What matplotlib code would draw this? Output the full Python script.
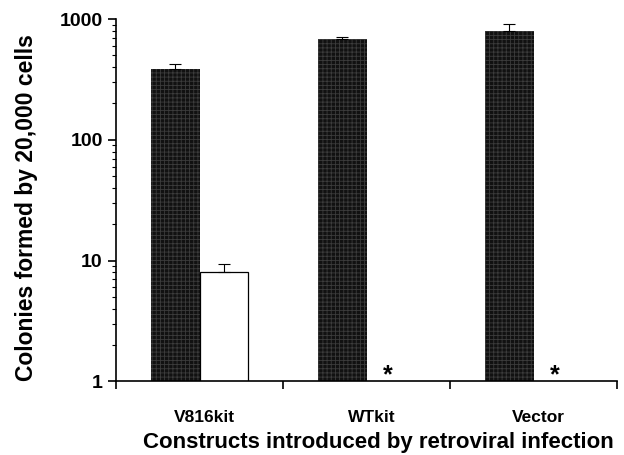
import matplotlib.pyplot as plt
import numpy as np

plt.rcParams["font.family"] = ["Liberation Sans", "DejaVu Sans"]
plt.rcParams["hatch.linewidth"] = 0.6

constructs = ["V816kit", "WTkit", "Vector"]
colonies_dark = [386, 684, 796]
err_dark = [40, 25, 110]
colonies_open = [8, None, None]
err_open = [1.3, None, None]
no_colonies = [False, True, True]

fig = plt.figure(figsize=(6.24, 4.55), dpi=100)
ax = fig.add_axes([0.186, 0.162, 0.803, 0.796])

x = np.arange(len(constructs))
w = 0.29

ax.bar(x - w / 2, colonies_dark, width=w, color="#111111",
       edgecolor="#3c3c3c", hatch="++++", linewidth=0, zorder=2)
ax.errorbar(x - w / 2, colonies_dark, yerr=[np.zeros(3), err_dark], fmt="none",
            ecolor="black", elinewidth=0.8, capsize=4, capthick=0.8, zorder=3)

for i, (val, err) in enumerate(zip(colonies_open, err_open)):
    if val is not None:
        ax.bar(x[i] + w / 2, val, width=w, color="white",
               edgecolor="black", linewidth=0.9, zorder=2)
        ax.errorbar(x[i] + w / 2, val, yerr=[[0], [err]], fmt="none",
                    ecolor="black", elinewidth=0.8, capsize=4, capthick=0.8, zorder=3)
    if no_colonies[i]:
        ax.annotate("*", (x[i] + w / 2 - 0.02, 1.0), xytext=(0, -4),
                    textcoords="offset points", ha="center", va="bottom",
                    fontsize=18, fontweight="bold")

ax.set_yscale("log")
ax.set_ylim(1, 1000)
ax.set_xlim(-0.5, 2.5)

ax.set_xticks([-0.5, 0.5, 1.5, 2.5])
ax.set_xticklabels([])
ax.set_xticks(x + 0.03, minor=True)
ax.set_xticklabels(constructs, minor=True, fontsize=12.5, fontweight="bold")
ax.tick_params(axis="x", which="major", direction="out", length=6, width=1.2)
ax.tick_params(axis="x", which="minor", length=0, pad=21)

ax.set_yticks([1, 10, 100, 1000])
ax.set_yticklabels(["1", "10", "100", "1000"], fontsize=14, fontweight="bold")
ax.tick_params(axis="y", which="major", direction="out", length=6, width=1.2)
ax.tick_params(axis="y", which="minor", direction="out", length=3, width=0.8)

for side in ["top", "right"]:
    ax.spines[side].set_visible(False)
ax.spines["left"].set_linewidth(1.2)
ax.spines["bottom"].set_linewidth(1.2)

ax.set_ylabel("Colonies formed by 20,000 cells", fontsize=16.5, fontweight="bold")
ax.yaxis.set_label_coords(-0.178, 0.48)
ax.set_xlabel("Constructs introduced by retroviral infection", fontsize=16,
              fontweight="bold")
ax.xaxis.set_label_coords(0.523, -0.168)
ax.xaxis.label.set_va("center")
ax.yaxis.label.set_va("center")

fig.savefig("out.png", dpi=100)
